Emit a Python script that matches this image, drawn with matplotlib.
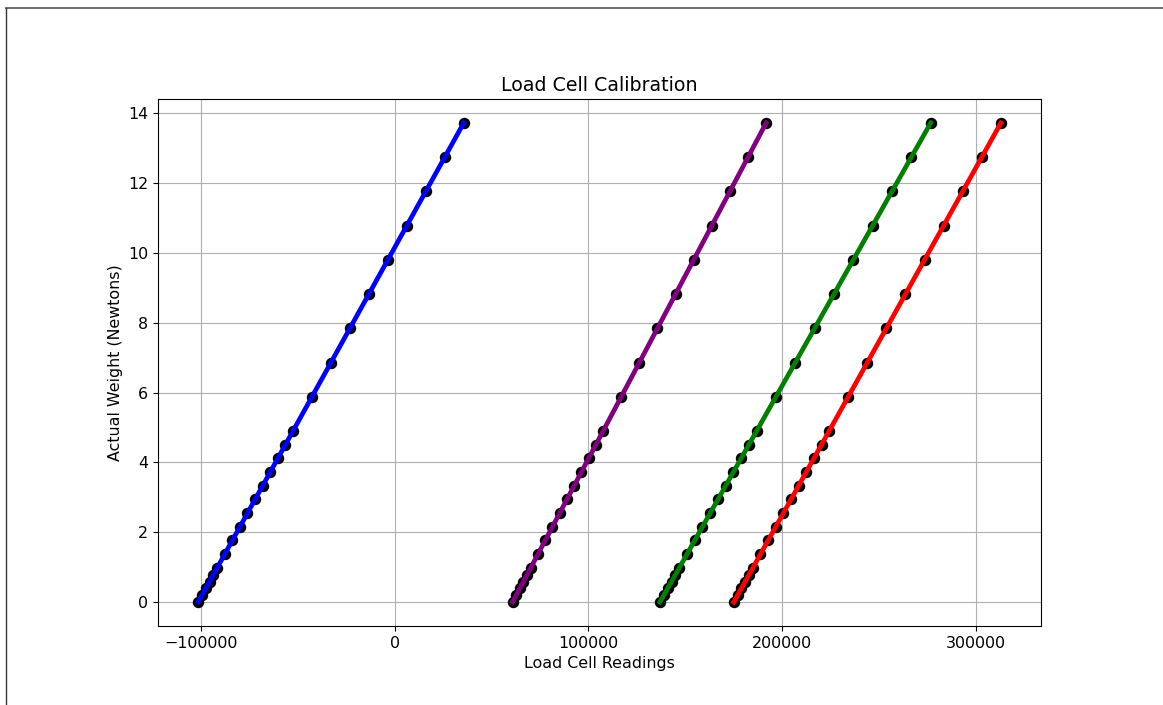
import matplotlib
matplotlib.use("Agg")
import matplotlib.pyplot as plt
from matplotlib.lines import Line2D

# Applied load (Newtons) for each calibration step
weights = [0.0, 0.196, 0.392, 0.588, 0.784, 0.98, 1.372, 1.764, 2.156, 2.548,
           2.94, 3.332, 3.724, 4.116, 4.508, 4.9, 5.88, 6.86, 7.84, 8.82,
           9.8, 10.78, 11.76, 12.74, 13.72]

# Raw readings from each of the four load cells
cell_blue = [-101300, -99340, -97390, -95430, -93470, -91510, -87600, -83690,
             -79770, -75860, -71950, -68030, -64120, -60200, -56290, -52370,
             -42590, -32800, -23020, -13230, -3450, 6340, 16120, 25910, 35690]
cell_purple = [60900, 62770, 64640, 66510, 68370, 70240, 73980, 77720, 81460,
               85190, 88930, 92670, 96400, 100140, 103880, 107620, 116960,
               126300, 135650, 144990, 154330, 163680, 173020, 182360, 191710]
cell_green = [136900, 138900, 140890, 142890, 144880, 146880, 150870, 154860,
              158850, 162840, 166840, 170830, 174820, 178810, 182800, 186790,
              196770, 206750, 216730, 226710, 236680, 246660, 256640, 266620,
              276600]
cell_red = [175000, 176970, 178940, 180910, 182870, 184840, 188780, 192720,
            196650, 200590, 204530, 208470, 212400, 216340, 220280, 224220,
            234060, 243900, 253740, 263590, 273430, 283270, 293120, 302960,
            312800]

series = [(cell_blue, "blue"), (cell_purple, "purple"),
          (cell_green, "green"), (cell_red, "red")]

plt.rcParams["font.size"] = 11.4

fig = plt.figure(figsize=(11.63, 7.05), dpi=100)
ax = fig.add_axes([0.1359, 0.112, 0.7592, 0.7476])

for readings, color in series:
    ax.scatter(readings, weights, color="black", s=52, zorder=2)
    ax.plot(readings, weights, color=color, linewidth=3.4, zorder=3)

ax.set_title("Load Cell Calibration", fontsize=13.7)
ax.set_xlabel("Load Cell Readings")
ax.set_ylabel("Actual Weight (Newtons)")
ax.grid(True)
ax.set_axisbelow(True)

# frame edges along the top and left of the canvas
fig.add_artist(Line2D([6 / 1163, 1.0], [1 - 8 / 705, 1 - 8 / 705],
                      transform=fig.transFigure, color="#555555", linewidth=1.2))
fig.add_artist(Line2D([6 / 1163, 6 / 1163], [0.0, 1 - 8 / 705],
                      transform=fig.transFigure, color="#333333", linewidth=1.0))

fig.savefig("out.png", dpi=100)
